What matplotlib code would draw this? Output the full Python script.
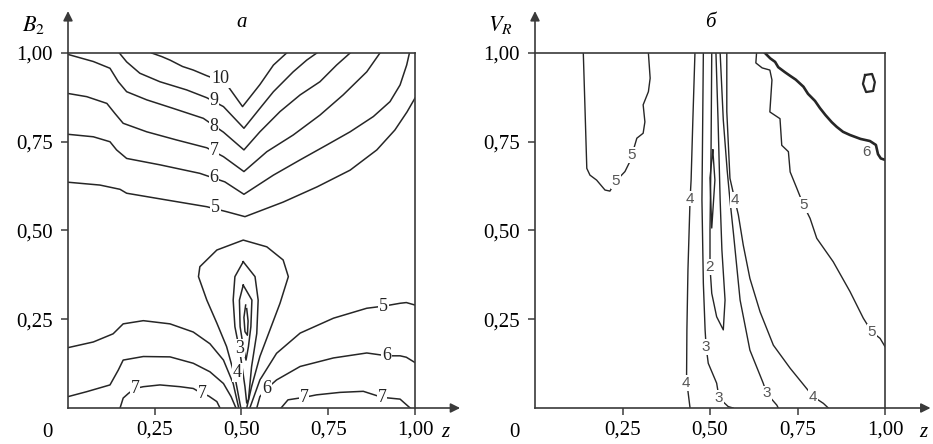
import matplotlib
matplotlib.use("Agg")
import matplotlib.pyplot as plt

plt.rcParams['font.family'] = ['Liberation Serif', 'DejaVu Serif']
plt.rcParams['mathtext.fontset'] = 'stix'

# tick labels
ticks = [0.25, 0.50, 0.75, 1.00]
tick_text = ['0,25', '0,50', '0,75', '1,00']

# ---- panel a: contour lines (z, B2) ----
a_10 = [(0.241, 1.0), (0.270, 0.990), (0.294, 0.980), (0.330, 0.962), (0.361, 0.952), (0.400, 0.936),
        (0.438, 0.922), (0.462, 0.905), (0.503, 0.849), (0.553, 0.911), (0.592, 0.966), (0.630, 1.0)]
a_9 = [(0.148, 1.0), (0.169, 0.975), (0.207, 0.943), (0.265, 0.919), (0.342, 0.896), (0.400, 0.874),
       (0.448, 0.849), (0.507, 0.788), (0.553, 0.844), (0.592, 0.891), (0.649, 0.947), (0.688, 0.980),
       (0.717, 1.0)]
a_8 = [(0.0, 0.996), (0.073, 0.976), (0.121, 0.957), (0.145, 0.919), (0.169, 0.891), (0.227, 0.868),
       (0.303, 0.844), (0.390, 0.816), (0.448, 0.777), (0.507, 0.727), (0.553, 0.778), (0.611, 0.835),
       (0.669, 0.882), (0.726, 0.919), (0.774, 0.966), (0.813, 1.0)]
a_7 = [(0.0, 0.886), (0.054, 0.877), (0.112, 0.858), (0.135, 0.830), (0.159, 0.802), (0.227, 0.778),
       (0.313, 0.755), (0.400, 0.733), (0.448, 0.708), (0.507, 0.666), (0.573, 0.722), (0.649, 0.769),
       (0.726, 0.825), (0.793, 0.882), (0.861, 0.947), (0.899, 1.0)]
a_6 = [(0.0, 0.771), (0.073, 0.764), (0.121, 0.750), (0.140, 0.727), (0.169, 0.703), (0.265, 0.685),
       (0.380, 0.661), (0.452, 0.637), (0.507, 0.602), (0.592, 0.656), (0.669, 0.699), (0.746, 0.741),
       (0.813, 0.778), (0.880, 0.821), (0.928, 0.863), (0.957, 0.910), (0.976, 0.966), (0.984, 1.0)]
a_5 = [(0.0, 0.636), (0.092, 0.628), (0.150, 0.616), (0.169, 0.605), (0.284, 0.586), (0.400, 0.567),
       (0.457, 0.553), (0.510, 0.539), (0.553, 0.555), (0.620, 0.580), (0.718, 0.623), (0.813, 0.670),
       (0.890, 0.727), (0.942, 0.783), (0.977, 0.834), (1.0, 0.873)]
a_5_low_l = [(0.0, 0.170), (0.073, 0.186), (0.130, 0.209), (0.159, 0.237), (0.217, 0.246), (0.294, 0.237),
             (0.361, 0.214), (0.409, 0.181), (0.448, 0.135), (0.476, 0.069), (0.492, 0.0)]
a_6_low_l = [(0.0, 0.032), (0.054, 0.046), (0.121, 0.065), (0.145, 0.107), (0.159, 0.135), (0.217, 0.145),
             (0.294, 0.144), (0.361, 0.126), (0.409, 0.102), (0.448, 0.069), (0.470, 0.032), (0.484, 0.0)]
a_7_low_l = [(0.150, 0.0), (0.159, 0.028), (0.174, 0.041), (0.193, 0.055), (0.217, 0.060), (0.265, 0.065),
             (0.323, 0.060), (0.361, 0.055), (0.386, 0.041), (0.405, 0.034), (0.429, 0.018), (0.438, 0.0)]
a_7_low_r = [(0.614, 0.0), (0.634, 0.023), (0.680, 0.030), (0.716, 0.037), (0.784, 0.044), (0.851, 0.047),
             (0.905, 0.030), (0.957, 0.025), (0.986, 0.0)]
a_6_low_r = [(1.0, 0.128), (0.975, 0.143), (0.957, 0.147), (0.919, 0.147), (0.861, 0.155), (0.765, 0.141),
             (0.669, 0.117), (0.601, 0.079), (0.573, 0.055), (0.553, 0.032), (0.544, 0.0)]
a_5_low_r = [(1.0, 0.290), (0.975, 0.297), (0.957, 0.295), (0.910, 0.287), (0.861, 0.281), (0.765, 0.253),
             (0.669, 0.211), (0.601, 0.154), (0.553, 0.079), (0.524, 0.0)]
a_4 = [(0.498, 0.0), (0.481, 0.088), (0.457, 0.173), (0.429, 0.239), (0.400, 0.304), (0.376, 0.370),
       (0.380, 0.398), (0.429, 0.445), (0.505, 0.473), (0.573, 0.454), (0.620, 0.417), (0.635, 0.370),
       (0.611, 0.295), (0.582, 0.220), (0.553, 0.145), (0.529, 0.060), (0.515, 0.0)]
a_3 = [(0.505, 0.412), (0.481, 0.370), (0.476, 0.304), (0.481, 0.229), (0.496, 0.154), (0.510, 0.060),
       (0.515, 0.014), (0.520, 0.023), (0.529, 0.116), (0.544, 0.210), (0.548, 0.304), (0.539, 0.370),
       (0.505, 0.412)]
a_2 = [(0.505, 0.346), (0.494, 0.304), (0.496, 0.229), (0.505, 0.173), (0.513, 0.135), (0.520, 0.173),
       (0.527, 0.229), (0.530, 0.304), (0.505, 0.346)]
a_1 = [(0.512, 0.290), (0.507, 0.255), (0.510, 0.215), (0.517, 0.205), (0.519, 0.245), (0.515, 0.280)]

a_labels = [('10', 0.438, 0.927), ('9', 0.421, 0.865), ('8', 0.421, 0.792), ('7', 0.421, 0.724),
            ('6', 0.421, 0.649), ('5', 0.424, 0.564), ('5', 0.910, 0.287), ('6', 0.919, 0.147),
            ('6', 0.573, 0.055), ('7', 0.193, 0.055), ('7', 0.386, 0.041), ('7', 0.680, 0.030),
            ('7', 0.905, 0.030), ('3', 0.494, 0.169), ('4', 0.488, 0.101)]

# ---- panel б: contour lines (z, V_R) ----
b_5_left = [(0.138, 1.0), (0.143, 0.839), (0.148, 0.675), (0.157, 0.656), (0.176, 0.642), (0.200, 0.614),
            (0.214, 0.611), (0.231, 0.639), (0.257, 0.666), (0.271, 0.694), (0.277, 0.713), (0.291, 0.760),
            (0.309, 0.774), (0.314, 0.806), (0.309, 0.854), (0.324, 0.891), (0.329, 0.929), (0.324, 1.0)]
b_4_left = [(0.457, 1.0), (0.451, 0.811), (0.446, 0.642), (0.443, 0.586), (0.437, 0.389), (0.434, 0.220),
            (0.433, 0.079), (0.443, 0.0)]
b_3_left = [(0.481, 1.0), (0.477, 0.586), (0.481, 0.351), (0.486, 0.220), (0.489, 0.172), (0.495, 0.126),
            (0.519, 0.070), (0.526, 0.028), (0.552, 0.004), (0.566, 0.0)]
b_2 = [(0.505, 1.0), (0.503, 0.727), (0.500, 0.501), (0.500, 0.397), (0.505, 0.323), (0.519, 0.257),
       (0.538, 0.220), (0.543, 0.304), (0.534, 0.445), (0.529, 0.586), (0.523, 0.811), (0.517, 1.0)]
b_1 = [(0.508, 0.727), (0.500, 0.648), (0.505, 0.507), (0.514, 0.642), (0.508, 0.727)]
b_3_right = [(0.529, 1.0), (0.538, 0.811), (0.549, 0.670), (0.557, 0.586), (0.567, 0.492), (0.586, 0.304),
             (0.614, 0.163), (0.652, 0.070), (0.662, 0.041), (0.691, 0.008), (0.695, 0.0)]
b_4_right = [(0.548, 1.0), (0.548, 0.835), (0.557, 0.647), (0.571, 0.586), (0.581, 0.544), (0.595, 0.459),
             (0.614, 0.365), (0.643, 0.271), (0.681, 0.177), (0.729, 0.112), (0.776, 0.055), (0.795, 0.032),
             (0.824, 0.013), (0.838, 0.0)]
b_5_right = [(0.633, 1.0), (0.631, 0.972), (0.649, 0.958), (0.671, 0.952), (0.677, 0.924), (0.671, 0.834),
             (0.700, 0.815), (0.705, 0.740), (0.724, 0.722), (0.729, 0.665), (0.748, 0.619), (0.767, 0.572),
             (0.786, 0.534), (0.805, 0.478), (0.852, 0.412), (0.900, 0.328), (0.938, 0.253), (0.962, 0.215),
             (0.986, 0.196), (1.0, 0.173)]
b_6 = [(0.657, 1.0), (0.672, 0.985), (0.686, 0.975), (0.695, 0.960), (0.714, 0.946), (0.730, 0.935),
       (0.745, 0.925), (0.767, 0.905), (0.780, 0.885), (0.800, 0.865), (0.814, 0.845), (0.830, 0.825),
       (0.848, 0.805), (0.862, 0.792), (0.880, 0.778), (0.900, 0.769), (0.930, 0.758), (0.957, 0.752),
       (0.974, 0.741), (0.980, 0.715), (0.988, 0.703), (1.0, 0.699)]
b_7 = [(0.943, 0.938), (0.963, 0.941), (0.971, 0.918), (0.966, 0.893), (0.946, 0.890), (0.937, 0.913),
       (0.943, 0.938)]

b_labels = [('5', 0.231, 0.639), ('5', 0.277, 0.713), ('4', 0.443, 0.590), ('4', 0.431, 0.071),
            ('2', 0.500, 0.397), ('3', 0.489, 0.172), ('3', 0.526, 0.028), ('3', 0.662, 0.041),
            ('4', 0.571, 0.586), ('4', 0.795, 0.032), ('5', 0.767, 0.572), ('5', 0.962, 0.215),
            ('6', 0.948, 0.722)]

line_col = '#262626'
axis_col = '#3a3a3a'

fig = plt.figure(figsize=(9.33, 4.44), dpi=100)
ax1 = fig.add_axes([68 / 933, 36 / 444, 347 / 933, 355 / 444])
ax2 = fig.add_axes([535 / 933, 36 / 444, 350 / 933, 355 / 444])


def setup(ax, ylab, title, zx):
    ax.set_xlim(0, 1)
    ax.set_ylim(0, 1)
    for s in ax.spines.values():
        s.set_color(axis_col)
        s.set_linewidth(1.2)
    ax.set_xticks(ticks)
    ax.set_xticklabels(tick_text)
    ax.set_yticks(ticks)
    ax.set_yticklabels(tick_text)
    ax.tick_params(direction='out', length=5, width=1.1, color=axis_col, labelsize=15, pad=6)
    ax.tick_params(axis='x', pad=4)
    arrow = dict(arrowstyle='-|>', color=axis_col, lw=1.2, mutation_scale=14, shrinkA=0, shrinkB=0)
    ax.annotate('', xy=(1.13, 0), xytext=(1.0, 0), xycoords='axes fraction', arrowprops=arrow)
    ax.annotate('', xy=(0, 1.118), xytext=(0, 1.0), xycoords='axes fraction', arrowprops=arrow)
    ax.text(-0.058, -0.068, '0', transform=ax.transAxes, fontsize=15, ha='center', va='center')
    ax.text(zx, -0.068, 'z', transform=ax.transAxes, fontsize=15, style='italic', ha='center', va='center')
    ax.text(-0.10, 1.078, ylab, transform=ax.transAxes, fontsize=16, ha='center', va='center')
    ax.text(0.5, 1.085, title, transform=ax.transAxes, fontsize=15, style='italic', ha='center', va='center')


setup(ax1, r'$B_2$', 'a', 1.086)
setup(ax2, r'$V_R$', 'б', 1.109)

for line in [a_10, a_9, a_8, a_7, a_6, a_5, a_5_low_l, a_6_low_l, a_7_low_l, a_7_low_r,
             a_6_low_r, a_5_low_r, a_4, a_3, a_2, a_1]:
    zs, vs = zip(*line)
    ax1.plot(zs, vs, color=line_col, lw=1.1, solid_joinstyle='round')

for txt, z, v in a_labels:
    ax1.text(z, v, txt, fontsize=13, color='#222222', ha='center', va='center',
             bbox=dict(boxstyle='square,pad=0.05', fc='white', ec='none'))

for line in [b_5_left, b_4_left, b_3_left, b_2, b_1, b_3_right, b_4_right, b_5_right]:
    zs, vs = zip(*line)
    ax2.plot(zs, vs, color=line_col, lw=1.0, solid_joinstyle='round')
zs, vs = zip(*b_6)
ax2.plot(zs, vs, color=line_col, lw=1.9, solid_joinstyle='round')
zs, vs = zip(*b_7)
ax2.plot(zs, vs, color=line_col, lw=1.6)

for txt, z, v in b_labels:
    ax2.text(z, v, txt, fontsize=11, color='#555555', family=['Liberation Sans', 'DejaVu Sans'],
             ha='center', va='center', bbox=dict(boxstyle='square,pad=0.05', fc='white', ec='none'))

fig.savefig('out.png', dpi=100)
